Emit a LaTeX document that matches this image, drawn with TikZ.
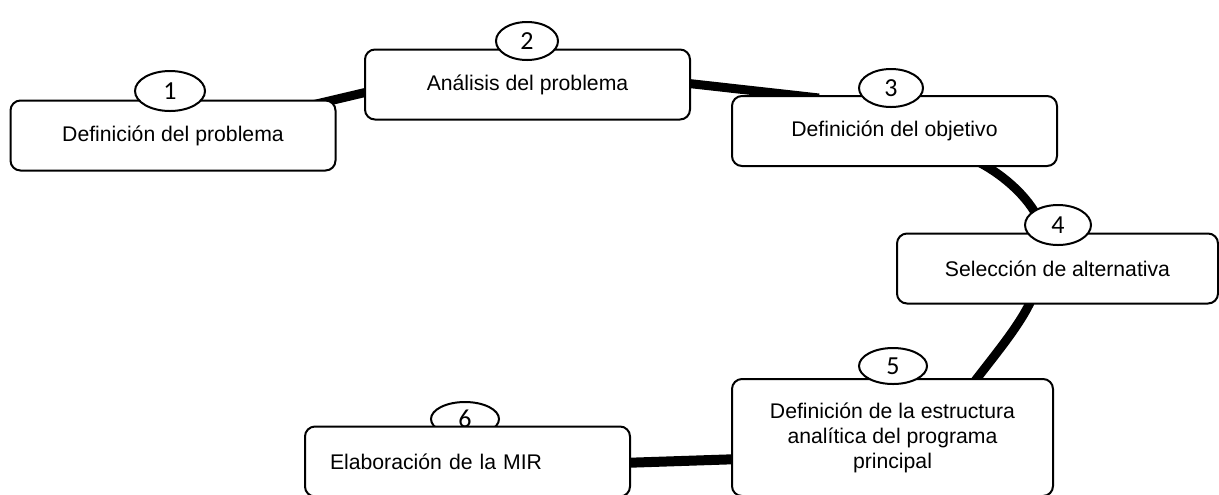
\documentclass[tikz,border=0pt]{standalone}
\usepackage{fontspec}
\setmainfont{Liberation Sans}
\newfontfamily\numfont{Carlito}
\usetikzlibrary{calc}
\usetikzlibrary{shapes}
\usetikzlibrary{backgrounds}

\begin{document}
\begin{tikzpicture}[x=0.5pt,y=-0.5pt,
		paso/.style={rectangle,rounded corners=5pt,draw=black,line width=1pt,fill=white,
			minimum width=162.5pt,minimum height=35pt,inner sep=0pt,align=center,
			font=\fontsize{10.6}{12.5}\selectfont},
		num/.style={ellipse,draw=black,line width=1pt,fill=white,minimum width=34pt,
			minimum height=20pt,inner sep=0pt,font=\numfont\fontsize{13}{13}\selectfont},
		enlace/.style={line width=4.5pt,black}]
		\useasboundingbox (0,0) rectangle (1219,494);
		
		\node[paso]  (b1) at (173,135.5)  {Definición del problema};
		\node[paso]  (b2) at (527.5,84.5) {Análisis del problema};
		\node[paso]  (b3) at (894.5,131)  {Definición del objetivo};
		\node[paso,minimum width=160.5pt] (b4) at (1057.5,268.5) {Selección de alternativa};
		\node[paso,minimum width=160.5pt,minimum height=58.5pt] (b5) at (892.5,437.5)
			{Definición de la estructura\\analítica del programa\\principal};
		\node[num,minimum height=17pt]   (e6) at (465,419) {6};
		\node[paso,align=left,text width=137.5pt,inner xsep=12.5pt] (b6) at (467.5,461.5)
			{Elaboración de la MIR};
		
		\node[num,minimum width=35pt] (e1) at (170,91) {1};
		\node[num,minimum width=31pt,minimum height=19pt] (e2) at (527,41) {2};
		\node[num,minimum width=32pt,minimum height=19pt] (e3) at (891,88) {3};
		\node[num,minimum width=33pt] (e4) at (1058,225) {4};
		\node[num,minimum height=18pt] (e5) at (893,366) {5};
		
		% thick links behind the boxes
		\begin{scope}[on background layer]
		\draw[enlace] ($(b1.north east)+(-35,8)$) -- ($(b2.west)+(35,0)$);
		\draw[enlace] ($(b2.east)+(-20,-3)$) -- ($(b3.north west)+(88,3)$);
		\draw[enlace] ($(b3.south)+(80,-7)$) .. controls +(25,12) and +(-12,-27) .. ($(e4.center)+(-18,-3)$);
		\draw[enlace] ($(b4.south)+(-22.5,-14)$) .. controls +(-10,30) and +(30,-40) .. ($(b5.north)+(72.5,16)$);
		\draw[enlace,line width=5pt] ($(b6.east)+(-10,1.5)$) -- ($(b5.west)+(10,21.5)$);
		\end{scope}
\end{tikzpicture}
\end{document}
